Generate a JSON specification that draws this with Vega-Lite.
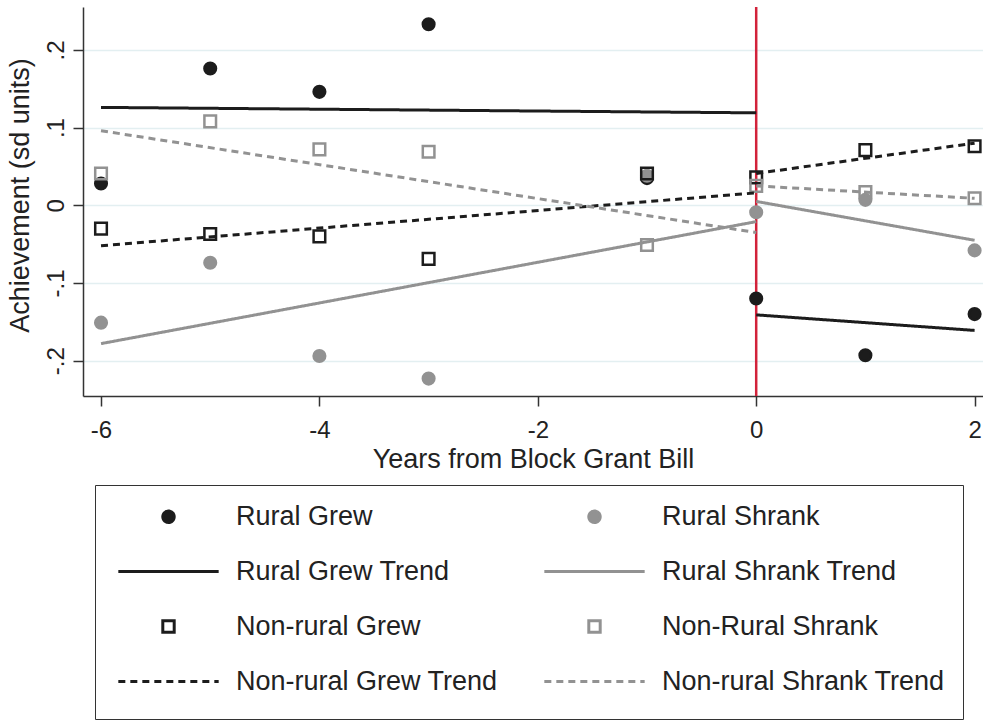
{
  "$schema": "https://vega.github.io/schema/vega-lite/v6.json",
  "width": 900,
  "height": 389,
  "autosize": {"type": "none"},
  "padding": {"left": 83, "top": 7, "right": 0, "bottom": 328},
  "background": "white",
  "datasets": {
    "scores": [
      {"year": -6, "value": 0.028, "series": "Rural Grew"},
      {"year": -5, "value": 0.176, "series": "Rural Grew"},
      {"year": -4, "value": 0.146, "series": "Rural Grew"},
      {"year": -3, "value": 0.233, "series": "Rural Grew"},
      {"year": -1, "value": 0.035, "series": "Rural Grew"},
      {"year": 0, "value": -0.12, "series": "Rural Grew"},
      {"year": 1, "value": -0.193, "series": "Rural Grew"},
      {"year": 2, "value": -0.14, "series": "Rural Grew"},
      {"year": -6, "value": -0.151, "series": "Rural Shrank"},
      {"year": -5, "value": -0.074, "series": "Rural Shrank"},
      {"year": -4, "value": -0.194, "series": "Rural Shrank"},
      {"year": -3, "value": -0.223, "series": "Rural Shrank"},
      {"year": -1, "value": 0.038, "series": "Rural Shrank"},
      {"year": 0, "value": -0.009, "series": "Rural Shrank"},
      {"year": 1, "value": 0.007, "series": "Rural Shrank"},
      {"year": 2, "value": -0.058, "series": "Rural Shrank"},
      {"year": -6, "value": -0.03, "series": "Non-rural Grew"},
      {"year": -5, "value": -0.037, "series": "Non-rural Grew"},
      {"year": -4, "value": -0.04, "series": "Non-rural Grew"},
      {"year": -3, "value": -0.069, "series": "Non-rural Grew"},
      {"year": -1, "value": 0.041, "series": "Non-rural Grew"},
      {"year": 0, "value": 0.036, "series": "Non-rural Grew"},
      {"year": 1, "value": 0.071, "series": "Non-rural Grew"},
      {"year": 2, "value": 0.076, "series": "Non-rural Grew"},
      {"year": -6, "value": 0.041, "series": "Non-Rural Shrank"},
      {"year": -5, "value": 0.108, "series": "Non-Rural Shrank"},
      {"year": -4, "value": 0.072, "series": "Non-Rural Shrank"},
      {"year": -3, "value": 0.069, "series": "Non-Rural Shrank"},
      {"year": -1, "value": -0.051, "series": "Non-Rural Shrank"},
      {"year": 0, "value": 0.025, "series": "Non-Rural Shrank"},
      {"year": 1, "value": 0.017, "series": "Non-Rural Shrank"},
      {"year": 2, "value": 0.009, "series": "Non-Rural Shrank"}
    ],
    "trends": [
      {"year": -6, "value": 0.126, "series": "Rural Grew Trend", "period": "before"},
      {"year": 0, "value": 0.119, "series": "Rural Grew Trend", "period": "before"},
      {"year": 0, "value": -0.141, "series": "Rural Grew Trend", "period": "after"},
      {"year": 2, "value": -0.161, "series": "Rural Grew Trend", "period": "after"},
      {"year": -6, "value": -0.178, "series": "Rural Shrank Trend", "period": "before"},
      {"year": 0, "value": -0.021, "series": "Rural Shrank Trend", "period": "before"},
      {"year": 0, "value": 0.005, "series": "Rural Shrank Trend", "period": "after"},
      {"year": 2, "value": -0.045, "series": "Rural Shrank Trend", "period": "after"},
      {"year": -6, "value": -0.052, "series": "Non-rural Grew Trend", "period": "before"},
      {"year": 0, "value": 0.016, "series": "Non-rural Grew Trend", "period": "before"},
      {"year": 0, "value": 0.041, "series": "Non-rural Grew Trend", "period": "after"},
      {"year": 2, "value": 0.08, "series": "Non-rural Grew Trend", "period": "after"},
      {"year": -6, "value": 0.096, "series": "Non-rural Shrank Trend", "period": "before"},
      {"year": 0, "value": -0.035, "series": "Non-rural Shrank Trend", "period": "before"},
      {"year": 0, "value": 0.025, "series": "Non-rural Shrank Trend", "period": "after"},
      {"year": 2, "value": 0.009, "series": "Non-rural Shrank Trend", "period": "after"}
    ],
    "bill": [{"year": 0}]
  },
  "config": {
    "font": "Liberation Sans",
    "view": {"stroke": null},
    "axis": {
      "labelFont": "Liberation Sans",
      "titleFont": "Liberation Sans",
      "labelFontSize": 24,
      "titleFontSize": 27,
      "titleFontWeight": "normal",
      "labelColor": "#222222",
      "titleColor": "#222222",
      "domainColor": "#333333",
      "domainWidth": 1.5,
      "tickColor": "#333333",
      "tickWidth": 1.5,
      "tickSize": 10,
      "gridColor": "#E3EFF1",
      "gridWidth": 1.5,
      "gridOpacity": 1
    },
    "legend": {
      "orient": "none",
      "legendX": 12,
      "legendY": 478,
      "columns": 2,
      "columnPadding": 40,
      "rowPadding": 27,
      "padding": 18,
      "strokeColor": "#333333",
      "fillColor": "white",
      "titleOrient": "bottom",
      "titleFontSize": 1,
      "titlePadding": 5,
      "labelFont": "Liberation Sans",
      "labelFontSize": 27,
      "labelColor": "#222222",
      "symbolOffset": 42,
      "labelOffset": 54,
      "labelLimit": 400,
      "symbolSize": 130,
      "symbolStrokeWidth": 3,
      "symbolOpacity": 1
    }
  },
  "encoding": {
    "x": {
      "field": "year",
      "type": "quantitative",
      "scale": {"domain": [-6.165, 2.077], "nice": false, "zero": false},
      "axis": {
        "title": "Years from Block Grant Bill",
        "values": [-6, -4, -2, 0, 2],
        "labelExpr": "replace(datum.label, '\u2212', '-')",
        "grid": false,
        "labelPadding": 12,
        "titleBaseline": "alphabetic",
        "titleY": 71
      }
    },
    "y": {
      "field": "value",
      "type": "quantitative",
      "scale": {"domain": [-0.2454, 0.2552], "nice": false, "zero": false},
      "axis": {
        "title": "Achievement (sd units)",
        "values": [-0.2, -0.1, 0, 0.1, 0.2],
        "labelExpr": "datum.value == 0 ? '0' : replace(replace(format(datum.value, '.1f'), '0.', '.'), '\u2212', '-')",
        "labelAngle": -90,
        "labelAlign": "center",
        "labelBaseline": "alphabetic",
        "labelPadding": 10,
        "titleAngle": -90,
        "titleBaseline": "alphabetic",
        "titleX": -55,
        "titleY": 188,
        "grid": true
      }
    }
  },
  "layer": [
    {
      "data": {"name": "bill"},
      "mark": {"type": "rule", "color": "#D2223A", "strokeWidth": 2.5},
      "encoding": {
        "x": {"field": "year", "type": "quantitative"},
        "y": null
      }
    },
    {
      "data": {"name": "scores"},
      "mark": {"type": "point", "size": 135, "strokeWidth": 2.5, "opacity": 1},
      "encoding": {
        "shape": {
          "field": "series",
          "type": "nominal",
          "legend": {"title": " "},
          "scale": {
            "domain": ["Rural Grew", "Rural Grew Trend", "Non-rural Grew", "Non-rural Grew Trend", "Rural Shrank", "Rural Shrank Trend", "Non-Rural Shrank", "Non-rural Shrank Trend"],
            "range": ["circle", "M-8.8,0H8.8", "square", "M-8.8,0H8.8", "circle", "M-8.8,0H8.8", "square", "M-8.8,0H8.8"]
          }
        },
        "stroke": {
          "field": "series",
          "type": "nominal",
          "legend": {"title": " "},
          "scale": {
            "domain": ["Rural Grew", "Rural Grew Trend", "Non-rural Grew", "Non-rural Grew Trend", "Rural Shrank", "Rural Shrank Trend", "Non-Rural Shrank", "Non-rural Shrank Trend"],
            "range": ["#1c1c1c", "#1c1c1c", "#1c1c1c", "#1c1c1c", "#929292", "#929292", "#929292", "#929292"]
          }
        },
        "fill": {
          "field": "series",
          "type": "nominal",
          "legend": {"title": " "},
          "scale": {
            "domain": ["Rural Grew", "Rural Grew Trend", "Non-rural Grew", "Non-rural Grew Trend", "Rural Shrank", "Rural Shrank Trend", "Non-Rural Shrank", "Non-rural Shrank Trend"],
            "range": ["#1c1c1c", "transparent", "transparent", "transparent", "#929292", "transparent", "transparent", "transparent"]
          }
        }
      }
    },
    {
      "data": {"name": "trends"},
      "mark": {"type": "line", "strokeWidth": 3},
      "encoding": {
        "stroke": {
          "field": "series",
          "type": "nominal",
          "legend": {"title": " "}
        },
        "strokeDash": {
          "field": "series",
          "type": "nominal",
          "legend": {"title": " "},
          "scale": {
            "domain": ["Rural Grew", "Rural Grew Trend", "Non-rural Grew", "Non-rural Grew Trend", "Rural Shrank", "Rural Shrank Trend", "Non-Rural Shrank", "Non-rural Shrank Trend"],
            "range": [[1, 0], [1, 0], [1, 0], [7, 5], [1, 0], [1, 0], [1, 0], [7, 5]]
          }
        },
        "detail": {"field": "period", "type": "nominal"}
      }
    }
  ]
}
